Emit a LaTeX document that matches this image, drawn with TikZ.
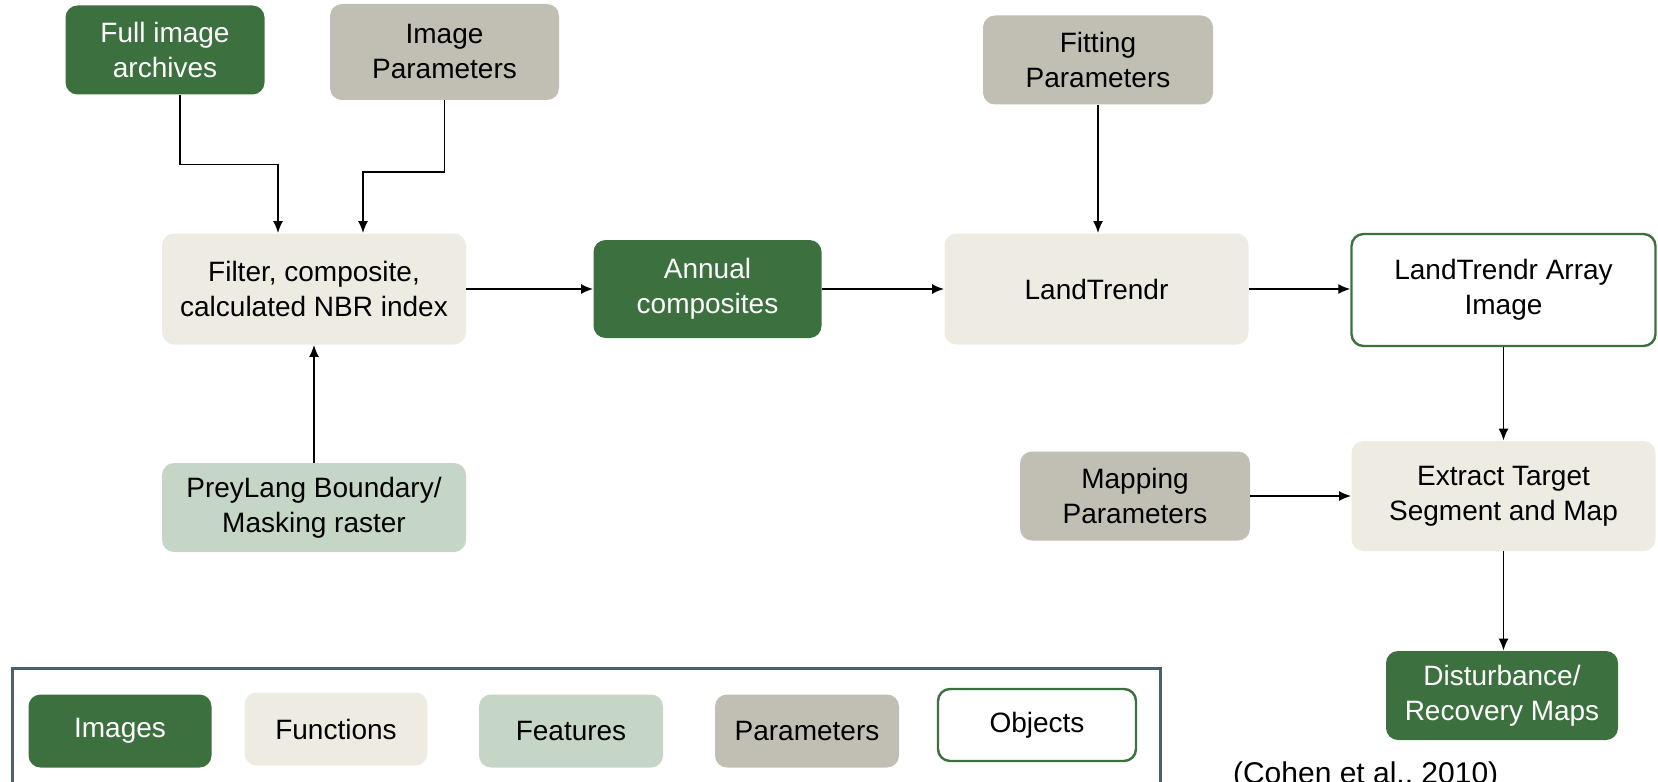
\documentclass[tikz,border=0pt]{standalone}
\usepackage{fontspec}
\setmainfont{Liberation Sans}
\usetikzlibrary{arrows.meta}
\definecolor{Gdark}{RGB}{61,112,63}
\definecolor{Gfill}{RGB}{197,214,199}
\definecolor{Pfill}{RGB}{193,191,179}
\definecolor{Ffill}{RGB}{238,235,227}
\definecolor{Lframe}{RGB}{74,96,112}

\begin{document}
\begin{tikzpicture}[x=0.5pt,y=-0.5pt,
  box/.style={rounded corners=6pt,inner sep=0pt,align=center,font=\fontsize{14}{17.5}\selectfont},
  imgbox/.style={box,fill=Gdark,text=white},
  funcbox/.style={box,fill=Ffill},
  featbox/.style={box,fill=Gfill},
  parbox/.style={box,fill=Pfill},
  objbox/.style={box,draw=Gdark,line width=1.2pt,fill=white},
  arr/.style={line width=0.85pt,-{Latex[length=6pt,width=5pt]}}]
\clip (0,0) rectangle (1658,781);
% inputs
\node[imgbox,minimum width=99.5pt,minimum height=44.5pt] (fia) at (165,50) {Full image\\archives};
\node[parbox,minimum width=114.5pt,minimum height=48pt] (ip) at (444.5,52) {Image\\Parameters};
\node[parbox,minimum width=115pt,minimum height=44.5pt] (fp) at (1098,60) {Fitting\\Parameters};
% main chain
\node[funcbox,minimum width=152pt,minimum height=55.5pt] (filt) at (314,289) {Filter, composite,\\calculated NBR index};
\node[imgbox,minimum width=114pt,minimum height=49pt] (annual) at (707.5,289) {Annual\\composites};
\node[funcbox,minimum width=152pt,minimum height=55.5pt] (lt) at (1096.5,289) {LandTrendr};
\node[objbox,minimum width=152pt,minimum height=56pt] (lta) at (1503.5,290) {LandTrendr Array\\Image};
\node[featbox,minimum width=152pt,minimum height=44.5pt] (prey) at (314,507.5) {PreyLang Boundary/\\Masking raster};
\node[parbox,minimum width=115pt,minimum height=44.5pt] (mapp) at (1135,496) {Mapping\\Parameters};
\node[funcbox,minimum width=152pt,minimum height=55pt] (extr) at (1503.5,496) {Extract Target\\Segment and Map};
\node[imgbox,minimum width=116pt,minimum height=44.5pt] (dist) at (1502,695.5) {Disturbance/\\Recovery Maps};
% connectors
\draw[arr] ([xshift=7.5pt]fia.south) -- ++(0,69.5) -| ([xshift=-18pt]filt.north);
\draw[arr] (ip.south) -- ++(0,71.5) -| ([xshift=24.5pt]filt.north);
\draw[arr] (filt.east) -- (annual.west);
\draw[arr] (annual.east) -- (lt.west);
\draw[arr] (fp.south) -- (fp.south |- lt.north);
\draw[arr] (lt.east) -- (lt.east -| lta.west);
\draw[arr] (lta.south) -- (extr.north);
\draw[arr] (mapp.east) -- (extr.west);
\draw[arr] (extr.south) -- (extr.south |- dist.north);
\draw[arr] (prey.north) -- (filt.south);
% legend
\draw[draw=Lframe,line width=1.5pt] (12.7,668) rectangle (1160,800);
\node[imgbox,minimum width=91.5pt,minimum height=36.5pt] (kimg) at (120,731) {Images};
\node[funcbox,minimum width=91.5pt,minimum height=36.5pt] (kfunc) at (336,729) {Functions};
\node[featbox,minimum width=92pt,minimum height=36.5pt] (kfeat) at (571,731) {Features};
\node[parbox,minimum width=92pt,minimum height=36.5pt] (kpar) at (807,731) {Parameters};
\node[objbox,minimum width=99pt,minimum height=36pt] (kobj) at (1037,725) {Objects};
\node[anchor=base west,font=\fontsize{15}{18}\selectfont] (cite) at (1226,783) {(Cohen et al., 2010)};
\end{tikzpicture}
\end{document}
